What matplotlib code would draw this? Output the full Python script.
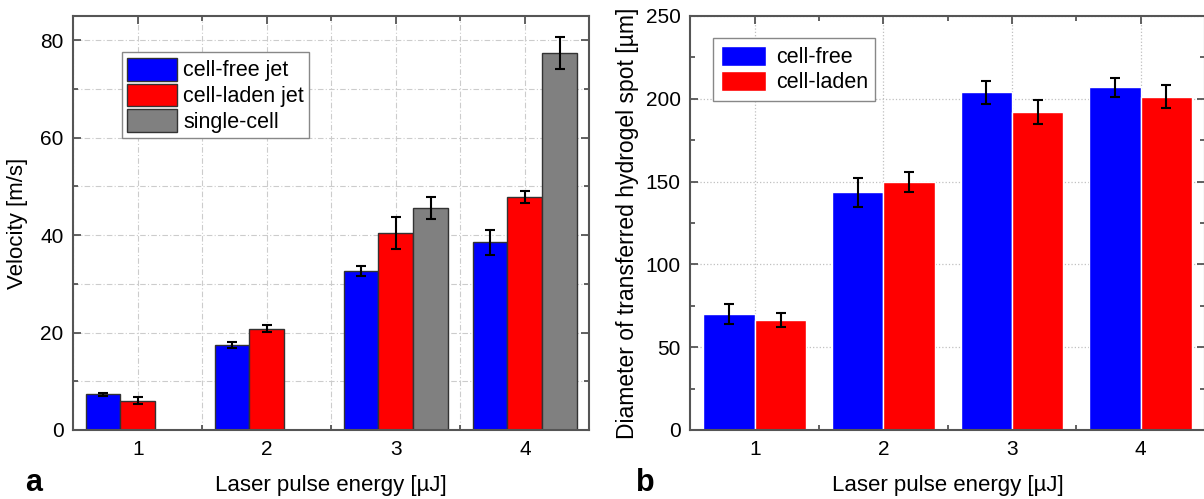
import numpy as np
import matplotlib.pyplot as plt
from matplotlib.ticker import MultipleLocator

plt.rcParams['font.family'] = ['Liberation Sans', 'DejaVu Sans']

energy = [1, 2, 3, 4]

# panel a: velocity [m/s]
vel_free = [7.3, 17.5, 32.7, 38.5]
vel_free_err = [0.3, 0.6, 1.0, 2.6]
vel_laden = [6.0, 20.8, 40.5, 47.9]
vel_laden_err = [0.7, 0.75, 3.3, 1.2]
vel_single = [np.nan, np.nan, 45.6, 77.4]
vel_single_err = [0, 0, 2.2, 3.3]

# panel b: spot diameter [um]
dia_free = [70.0, 143.5, 203.8, 206.9]
dia_free_err = [5.8, 8.6, 6.8, 5.6]
dia_laden = [66.5, 150.0, 192.1, 201.2]
dia_laden_err = [4.3, 6.0, 7.3, 7.0]

blue = '#0000ff'
red = '#ff0000'
gray = '#808080'
spine_c = '#555555'

fig = plt.figure(figsize=(12.04, 4.99), dpi=100)
ax1 = fig.add_axes([0.0609, 0.1383, 0.4286, 0.8297])
ax2 = fig.add_axes([0.5735, 0.1383, 0.4273, 0.8297])

x = np.array(energy, dtype=float)
ekw = dict(ecolor='black', elinewidth=1.5, capsize=3.5, capthick=1.5)

# ---- a ----
w = 0.27
ax1.bar(x - w, vel_free, w, yerr=vel_free_err, color=blue, edgecolor='#333333',
        linewidth=1, label='cell-free jet', error_kw=ekw, zorder=2)
ax1.bar(x, vel_laden, w, yerr=vel_laden_err, color=red, edgecolor='#333333',
        linewidth=1, label='cell-laden jet', error_kw=ekw, zorder=2)
ax1.bar(x[2:] + w, vel_single[2:], w, yerr=vel_single_err[2:], color=gray,
        edgecolor='#333333', linewidth=1, label='single-cell', error_kw=ekw, zorder=2)
ax1.set_xlim(0.5, 4.5)
ax1.set_ylim(0, 85)
ax1.yaxis.set_major_locator(MultipleLocator(20))
ax1.yaxis.set_minor_locator(MultipleLocator(10))
ax1.xaxis.set_minor_locator(MultipleLocator(0.5))
ax1.set_xticks(energy)
ax1.grid(True, which='both', color='#cccccc', linestyle=(0, (5, 2, 1, 2)),
         linewidth=0.8, zorder=0)
ax1.set_axisbelow(True)
ax1.set_ylabel('Velocity [m/s]', fontsize=16, labelpad=9)
ax1.set_xlabel('Laser pulse energy [µJ]', fontsize=16, labelpad=12)
leg1 = ax1.legend(loc='upper left', bbox_to_anchor=(0.094, 0.912), borderaxespad=0,
                  fontsize=15.5, fancybox=False, framealpha=1, edgecolor='#888888',
                  handlelength=2.3, handleheight=1.25, labelspacing=0.1,
                  handletextpad=0.3, borderpad=0.25)
leg1.get_frame().set_linewidth(1)

# ---- b ----
w2 = 0.4
ax2.bar(x - 0.2, dia_free, w2, yerr=dia_free_err, color=blue, edgecolor='white',
        linewidth=1, label='cell-free', error_kw=ekw, zorder=2)
ax2.bar(x + 0.2, dia_laden, w2, yerr=dia_laden_err, color=red, edgecolor='white',
        linewidth=1, label='cell-laden', error_kw=ekw, zorder=2)
ax2.set_xlim(0.5, 4.5)
ax2.set_ylim(0, 250)
ax2.yaxis.set_major_locator(MultipleLocator(50))
ax2.yaxis.set_minor_locator(MultipleLocator(25))
ax2.xaxis.set_minor_locator(MultipleLocator(0.5))
ax2.set_xticks(energy)
ax2.grid(True, which='major', color='#c0c0c0', linestyle=':', linewidth=0.9, zorder=0)
ax2.set_axisbelow(True)
ax2.set_ylabel('Diameter of transferred hydrogel spot [µm]', fontsize=16.5, labelpad=5)
ax2.set_xlabel('Laser pulse energy [µJ]', fontsize=16, labelpad=12)
leg2 = ax2.legend(loc='upper left', bbox_to_anchor=(0.0443, 0.946), borderaxespad=0,
                  fontsize=15.5, fancybox=False, framealpha=1, edgecolor='#888888',
                  handlelength=2.1, handleheight=1.05, labelspacing=0.12,
                  handletextpad=0.45, borderpad=0.35)
leg2.get_frame().set_linewidth(1)

for ax in (ax1, ax2):
    for s in ax.spines.values():
        s.set_color(spine_c)
        s.set_linewidth(1.5)
    ax.tick_params(which='both', direction='in', top=True, right=True,
                   color=spine_c, width=1.3)
    ax.tick_params(which='major', length=6, labelsize=15, pad=7)
    ax.tick_params(which='minor', length=3.5)

fig.text(0.021, 0.016, 'a', fontsize=22, fontweight='bold')
fig.text(0.528, 0.016, 'b', fontsize=22, fontweight='bold')

fig.savefig('out.png', dpi=100)
